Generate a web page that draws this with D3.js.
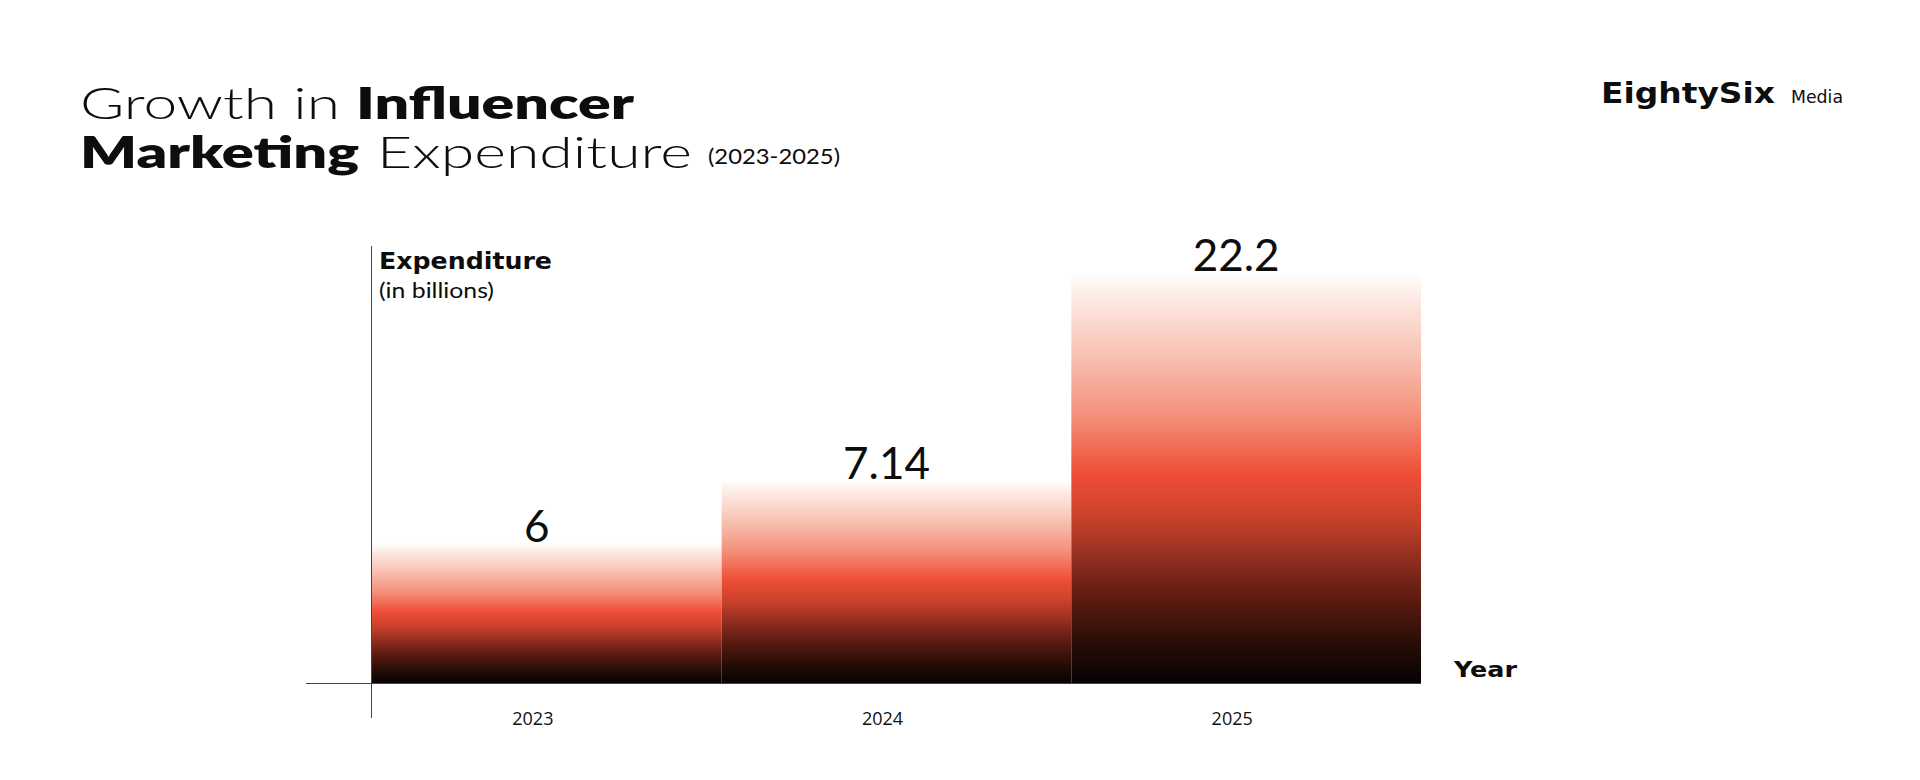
<!DOCTYPE html>
<html>
<head>
<meta charset="utf-8">
<script src="https://cdn.jsdelivr.net/npm/d3@7"></script>
<style>
  html, body { margin: 0; padding: 0; background: #ffffff; }
  svg { display: block; }
</style>
</head>
<body>
<svg id="chart" width="1920" height="780"></svg>
<script>
// ---- data ----
const years = ["2023", "2024", "2025"];
const expenditure = [6, 7.14, 22.2];
const valueLabels = ["6", "7.14", "22.2"];
// the infographic uses a non-proportional visual scale; breakpoints at the data values
const visualBreaks = [0, 6, 7.14, 22.2];

const svg = d3.select("#chart");
const baseY = 683, axisX = 371;

const x = d3.scaleBand().domain(years).range([372, 1421]).padding(0);
const y = d3.scaleLinear().domain(visualBreaks).range([baseY, 543, 480, 272]);

// gradient
const defs = svg.append("defs");
const grad = defs.append("linearGradient").attr("id", "barGrad")
  .attr("x1", 0).attr("y1", 0).attr("x2", 0).attr("y2", 1);
[
  [0, "#ffffff"], [0.05, "#fdeee9"], [0.2, "#f8c2b4"], [0.35, "#f3907a"],
  [0.49, "#f04e37"], [0.6, "#c8412b"], [0.7, "#8f2d1f"], [0.8, "#5a1a10"],
  [0.9, "#2a0e08"], [1, "#040202"]
].forEach(([o, c]) => grad.append("stop").attr("offset", o).attr("stop-color", c));

const FONT = "Lato, 'Open Sans', sans-serif";
const WIDE = "'DejaVu Sans', Verdana, sans-serif";
function fitText(g, txt, xPos, yPos, size, weight, width, family) {
  return g.append("text").attr("x", xPos).attr("y", yPos)
    .attr("font-family", family || FONT).attr("font-size", size)
    .attr("font-weight", weight).attr("fill", "#0d0d0d")
    .attr("textLength", width).attr("lengthAdjust", "spacingAndGlyphs")
    .text(txt);
}

// title
const tg = svg.append("g");
fitText(tg, "Growth in", 80, 119, 44, 300, 260);
fitText(tg, "Influencer", 356, 119, 44, 800, 278);
fitText(tg, "Marketing", 80, 168, 44, 800, 279);
fitText(tg, "Expenditure", 377, 168, 44, 300, 315);
fitText(tg, "(2023-2025)", 708, 164, 22, 400, 132);

// logo
fitText(tg, "EightySix", 1601, 103, 28, 700, 174, WIDE);
fitText(tg, "Media", 1791, 103, 17, 500, 52, WIDE);

// bars
svg.append("g").selectAll("rect").data(years).join("rect")
  .attr("x", d => x(d))
  .attr("width", x.bandwidth())
  .attr("y", (d, i) => y(expenditure[i]))
  .attr("height", (d, i) => baseY - y(expenditure[i]))
  .attr("fill", "url(#barGrad)");

// value labels
svg.append("g").selectAll("text").data(years).join("text")
  .attr("x", d => x(d) + x.bandwidth() / 2 - 10)
  .attr("y", (d, i) => y(expenditure[i]) - 1)
  .attr("text-anchor", "middle")
  .attr("font-family", FONT).attr("font-size", 44).attr("font-weight", 400)
  .attr("fill", "#0d0d0d")
  .text((d, i) => valueLabels[i]);

// axes lines
svg.append("line").attr("x1", 306).attr("x2", 1421).attr("y1", baseY + 0.5).attr("y2", baseY + 0.5)
  .attr("stroke", "#444").attr("stroke-width", 1);
svg.append("line").attr("x1", axisX + 0.5).attr("x2", axisX + 0.5).attr("y1", 246).attr("y2", 718)
  .attr("stroke", "#444").attr("stroke-width", 1);

// x axis tick labels
const xAxis = svg.append("g").attr("transform", `translate(0,${baseY})`)
  .call(d3.axisBottom(x).tickSize(0).tickPadding(29));
xAxis.select(".domain").remove();
xAxis.selectAll("text").attr("font-family", "'Open Sans', sans-serif")
  .attr("font-size", 18).attr("fill", "#111").attr("dx", -14);

// axis titles
fitText(tg, "Expenditure", 379, 269, 23, 700, 173, WIDE);
fitText(tg, "(in billions)", 379, 298, 22, 400, 115);
fitText(tg, "Year", 1454, 677, 22, 700, 63, WIDE);
</script>
</body>
</html>
